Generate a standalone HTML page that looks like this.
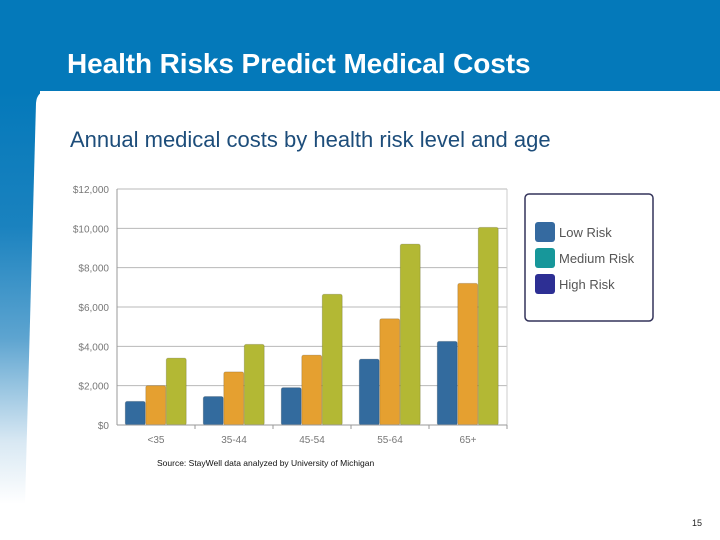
<!DOCTYPE html>
<html><head><meta charset="utf-8"><style>
body{margin:0;width:720px;height:540px;overflow:hidden;background:#fff;font-family:"Liberation Sans",sans-serif;position:relative}
#hdr{position:absolute;left:0;top:0;width:720px;height:91px;background:#0479ba}
#side{position:absolute;left:0;top:91px;width:40px;height:449px;background:linear-gradient(#0479ba 0%,#1a82bf 30%,#5da4d0 55%,#d8e8f3 78%,#fff 92%)}
#title{position:absolute;left:67px;top:48px;color:#fff;font-weight:bold;font-size:28px;letter-spacing:-0.1px}
#sub{position:absolute;left:70px;top:127px;color:#1d4d7a;font-size:22px;letter-spacing:0px}
</style></head><body>
<div id="hdr"></div>
<div id="side"></div>
<svg width="720" height="540" style="position:absolute;left:0;top:0"><path d="M48 91 L720 91 L720 540 L24 540 L36 103 Q37 91 48 91 Z" fill="#fff"/></svg>
<div id="title">Health Risks Predict Medical Costs</div>
<div id="sub">Annual medical costs by health risk level and age</div>
<svg id="chart" width="720" height="540" style="position:absolute;left:0;top:0"></svg>
<div style="position:absolute;left:692px;top:518px;font-size:9px;color:#222">15</div>
<script>
const categories=["<35","35-44","45-54","55-64","65+"];
const lowRisk=[1200,1450,1900,3350,4250];
const mediumRisk=[2000,2700,3550,5400,7200];
const highRisk=[3400,4100,6650,9200,10050];
const ticks=[0,2000,4000,6000,8000,10000,12000];
const tickLabels=["$0","$2,000","$4,000","$6,000","$8,000","$10,000","$12,000"];
const NS="http://www.w3.org/2000/svg";
const svg=document.getElementById('chart');
const x0=117,x1=507,y0=425,y1=189;
const y=v=>y0-(v/12000)*(y0-y1);
const band=(x1-x0)/categories.length;
const xb=i=>x0+i*band;
function mk(t,a){const e=document.createElementNS(NS,t);for(const k in a)e.setAttribute(k,a[k]);svg.appendChild(e);return e;}
ticks.forEach((t,i)=>{
 const g=mk('line',{x1:x0,x2:x1,y1:y(t),y2:y(t),stroke:'#b8b8b8','stroke-width':1});
 
 
 const l=mk('text',{x:x0-8,y:y(t)+4,'text-anchor':'end','font-size':10,fill:'#777','font-family':'Liberation Sans'});
 l.textContent=tickLabels[i];
 
 
});
const ax=mk('line',{x1:x0,x2:x0,y1:y1,y2:y0,stroke:'#999'});


const ax2=mk('line',{x1:x1,x2:x1,y1:y1,y2:y0,stroke:'#ccc'});


const series=[[lowRisk,'#336b9e','low'],[mediumRisk,'#e5a030','medium'],[highRisk,'#b3b834','high']];
const bw=20.5;
categories.forEach((c,i)=>{
 const gs=xb(i)+(band-3*bw)/2;
 series.forEach((s,j)=>{
  const v=s[0][i];
  const r=mk('rect',{x:gs+j*bw,y:y(v),width:bw-0.5,height:y0-y(v),rx:2,fill:s[1],stroke:'rgba(0,0,0,0.15)'});
  
  
 });
 const tk=mk('line',{x1:xb(i+1),x2:xb(i+1),y1:y0,y2:y0+4,stroke:'#999'});
 
 
 const t=mk('text',{x:xb(i)+band/2,y:y0+18,'text-anchor':'middle','font-size':10,fill:'#777','font-family':'Liberation Sans'});
 t.textContent=c;
 
 
});
const xa=mk('line',{x1:x0,x2:x1,y1:y0,y2:y0,stroke:'#999'});


const src=mk('text',{x:157,y:466,'font-size':8.5,fill:'#111','font-family':'Liberation Sans'});
src.textContent='Source: StayWell data analyzed by University of Michigan';


const lg=mk('rect',{x:525,y:194,width:128,height:127,rx:4,fill:'#fff',stroke:'#33335a','stroke-width':1.5});


const legCols=['#356aa0','#17979a','#2d2f94'];
const legNames=['Low Risk','Medium Risk','High Risk'];
legNames.forEach((n,i)=>{
 const r=mk('rect',{x:535,y:222+i*26,width:20,height:20,rx:3,fill:legCols[i]});
 
 
 const t=mk('text',{x:559,y:237+i*26,'font-size':13,fill:'#555','font-family':'Liberation Sans'});
 t.textContent=n;
 
 
});
</script>
</body></html>
